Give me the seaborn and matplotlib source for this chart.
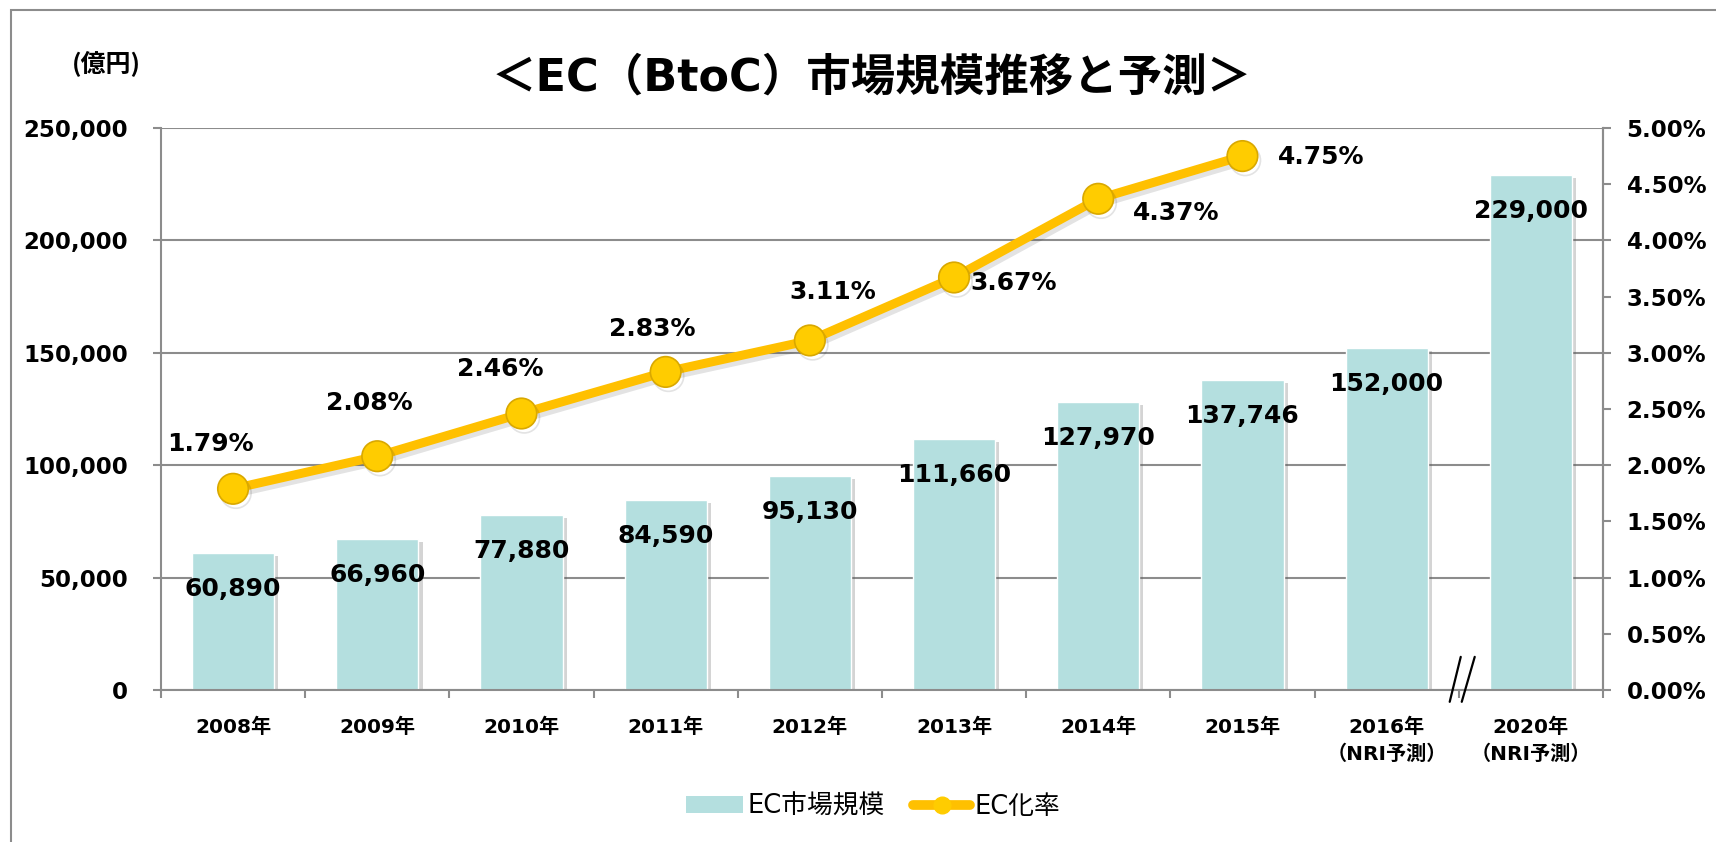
import numpy as np
import pandas as pd
import matplotlib
matplotlib.use("Agg")
import matplotlib.pyplot as plt
import matplotlib.patheffects as pe
from matplotlib.patches import Rectangle
from matplotlib.lines import Line2D
from matplotlib.ticker import FuncFormatter, MultipleLocator
import seaborn as sns

years = ["2008年", "2009年", "2010年", "2011年", "2012年", "2013年", "2014年", "2015年",
         "2016年\n（NRI予測）", "2020年\n（NRI予測）"]
market_size = [60890, 66960, 77880, 84590, 95130, 111660, 127970, 137746, 152000, 229000]
ec_rate = [1.79, 2.08, 2.46, 2.83, 3.11, 3.67, 4.37, 4.75]

# label offsets for the rate labels (pixels, x right / y up)
rate_label_offsets = [(-23, 45), (-8, 53), (-21, 44), (-13, 43), (23, 48), (60, -6), (78, -14), (79, -1)]

bar_color = "#B4DFDF"
line_color = "#FFC000"
grid_color = "#8C8C8C"

sns.set_theme(style="white")
plt.rcParams["font.family"] = ["DejaVu Sans", "Noto Sans CJK JP"]
plt.rcParams["font.weight"] = "bold"
plt.rcParams["text.color"] = "black"
plt.rcParams["xtick.color"] = "black"
plt.rcParams["ytick.color"] = "black"

df = pd.DataFrame({"year": years, "size": market_size})

fig = plt.figure(figsize=(17.16, 8.42), dpi=100)
ax = fig.add_axes([0.0938, 0.1805, 0.9341 - 0.0938, 0.848 - 0.1805])

sns.barplot(data=df, x="year", y="size", color=bar_color, saturation=1, width=0.57, ax=ax, zorder=2)
for p in ax.patches:
    p.set_path_effects([pe.SimplePatchShadow(offset=(3, -2), alpha=0.25, shadow_rgbFace="#555555"), pe.Normal()])

ax.set_ylim(0, 250000)
ax.set_xlim(-0.5, len(years) - 0.5)
ax.yaxis.set_major_locator(MultipleLocator(50000))
ax.yaxis.set_major_formatter(FuncFormatter(lambda v, _: f"{int(v):,}"))
ax.grid(axis="y", color=grid_color, lw=1.5, zorder=0)
ax.set_axisbelow(True)
ax.set_xlabel("")
ax.set_ylabel("")
ax.spines["top"].set_visible(False)
for s in ["left", "bottom", "right"]:
    ax.spines[s].set_color(grid_color)
    ax.spines[s].set_linewidth(1.5)

ax.tick_params(axis="y", which="major", left=True, length=6, width=1.5, color=grid_color,
               pad=18, labelsize=16.5, labelcolor="black")
ax.set_xticks(np.arange(len(years)))
ax.set_xticklabels(years, fontsize=14.5, fontweight="bold", linespacing=1.45, va="top")
ax.tick_params(axis="x", length=0, pad=20, labelcolor="black")
# category boundary ticks
ax.set_xticks(np.arange(len(years) + 1) - 0.5, minor=True)
ax.tick_params(axis="x", which="minor", bottom=True, length=6, width=1.5, color=grid_color)

for i, v in enumerate(market_size):
    ax.annotate(f"{v:,}", (i, v), xytext=(0, -36), textcoords="offset pixels",
                ha="center", va="center", fontsize=18, fontweight="bold", color="black", zorder=5)

# secondary axis for rate
ax2 = ax.twinx()
ax2.set_ylim(0, 5)
ax2.yaxis.set_major_locator(MultipleLocator(0.5))
ax2.yaxis.set_major_formatter(FuncFormatter(lambda v, _: f"{v:.2f}%"))
ax2.tick_params(axis="y", right=True, length=6, width=1.5, color=grid_color, pad=11,
                labelsize=16.5, labelcolor="black")
for s in ["top", "left", "bottom"]:
    ax2.spines[s].set_visible(False)
ax2.spines["right"].set_color(grid_color)
ax2.spines["right"].set_linewidth(1.5)
ax2.grid(False)

xs = np.arange(len(ec_rate))
sns.lineplot(x=xs, y=ec_rate, ax=ax2, color=line_color, lw=6.5, marker="o", markersize=22,
             markerfacecolor="#FFCC00", markeredgecolor="#D9A800", markeredgewidth=1.2, sort=False,
             legend=False)
for ln in ax2.lines:
    ln.set_path_effects([pe.SimpleLineShadow(offset=(2, -3), alpha=0.12), pe.Normal()])
ax2.set_xlim(-0.5, len(years) - 0.5)

for i, v in enumerate(ec_rate):
    dx, dy = rate_label_offsets[i]
    ax2.annotate(f"{v:.2f}%", (i, v), xytext=(dx, dy), textcoords="offset pixels",
                 ha="center", va="center", fontsize=18, fontweight="bold", color="black")

# axis break mark between 2016 and 2020
for x0, x1 in [(-0.0625, 0.014), (0.021, 0.111)]:
    ax.plot([8.5 + x0, 8.5 + x1], [-0.021, 0.059], transform=ax.get_xaxis_transform(),
            color="black", lw=1.6, clip_on=False, zorder=6)

# titles
fig.text(0.508, 0.907, "＜EC（BtoC）市場規模推移と予測＞", ha="center", va="center",
         fontsize=32, fontweight="bold")
fig.text(0.062, 0.925, "(億円)", ha="center", va="center", fontsize=18, fontweight="bold",
         family=["Noto Sans CJK JP"])

# legend
handles = [Rectangle((0, 0), 1, 1, facecolor=bar_color, edgecolor="none"),
           Line2D([0], [0], color=line_color, lw=7, marker="o", markersize=12,
                  markerfacecolor="#FFCC00", markeredgecolor="#FFCC00")]
fig.legend(handles, ["EC市場規模", "EC化率"], loc="center", bbox_to_anchor=(0.509, 0.042), ncol=2,
           frameon=False, prop={"size": 18.5, "weight": "normal"}, handlelength=2.2, handleheight=0.6,
           columnspacing=1.1, handletextpad=0.2, labelcolor="black")

# outer frame
fig.patches.append(Rectangle((11 / 1716, -0.1), 1.2, 1.1 - 10 / 842, transform=fig.transFigure,
                             fill=False, edgecolor="#8C8C8C", lw=1.5))

fig.savefig("out.png", dpi=100)
